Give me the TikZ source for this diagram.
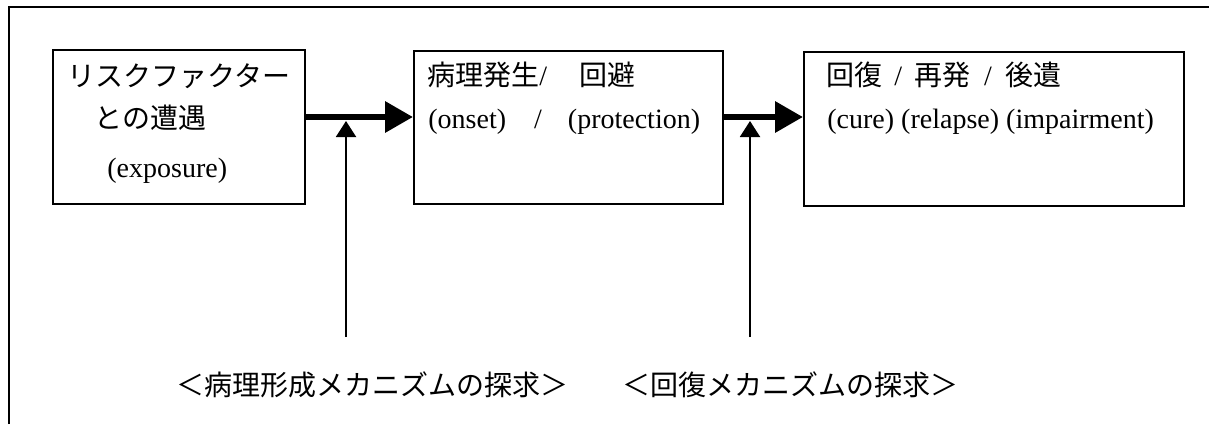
\documentclass[tikz,border=0pt]{standalone}
\usepackage{fontspec}
\setmainfont{Liberation Serif}
\newfontfamily\cjk{Noto Sans CJK JP}
\usetikzlibrary{arrows.meta}
\begin{document}
\begin{tikzpicture}[x=0.5pt,y=-0.5pt,
  box/.style={draw, line width=1pt, inner sep=0pt},
  txt/.style={anchor=base west, inner sep=0pt, font=\fontsize{14pt}{16pt}\selectfont},
  thickarrow/.style={line width=3.2pt, -{Triangle[length=14pt,width=15pt]}},
  uparrow/.style={line width=1pt, -{Triangle[length=8pt,width=10pt]}},
  frame/.style={line width=1pt}]
\useasboundingbox (0,0) rectangle (1209,424);
\draw[frame] (9,424) -- (9,7) -- (1209,7);
\node[box, minimum width=126pt, minimum height=77pt] (b1) at (179,127) {};
\node[box, minimum width=154.5pt, minimum height=76.5pt] (b2) at (568.5,127.5) {};
\node[box, minimum width=190pt, minimum height=77pt] (b3) at (994,129) {};
% texts
\node[txt] (t1a) at (67,86) {\cjk リスクファクター};
\node[txt] (t1b) at (94,128) {\cjk との遭遇};
\node[txt] (t1c) at (107,177) {(exposure)};
\node[txt] (t2a) at (427,85) {{\cjk 病理発生}/\hspace{16pt}{\cjk 回避}};
\node[txt] (t2b) at (428,128) {(onset)\hspace{14pt}/\hspace{13pt}(protection)};
\node[txt] (t3a) at (826,85) {{\cjk 回復}\hspace{6pt}/\hspace{6pt}{\cjk 再発}\hspace{7pt}/\hspace{7pt}{\cjk 後遺}};
\node[txt] (t3b) at (827,128) {(cure) (relapse) (impairment)};
\node[txt] (l1) at (176,395) {\cjk ＜病理形成メカニズムの探求＞};
\node[txt] (l2) at (622,395) {\cjk ＜回復メカニズムの探求＞};
% arrows
\coordinate (y1) at (0,117);
\draw[thickarrow] (b1.east |- y1) -- (b2.west |- y1);
\draw[thickarrow] (b2.east |- y1) -- (b3.west |- y1);
\coordinate (a1) at (346,121);
\coordinate (a1b) at (346,337);
\coordinate (a2) at (750,121);
\coordinate (a2b) at (750,337);
\draw[uparrow] (a1b) -- (a1);
\draw[uparrow] (a2b) -- (a2);
\end{tikzpicture}
\end{document}
